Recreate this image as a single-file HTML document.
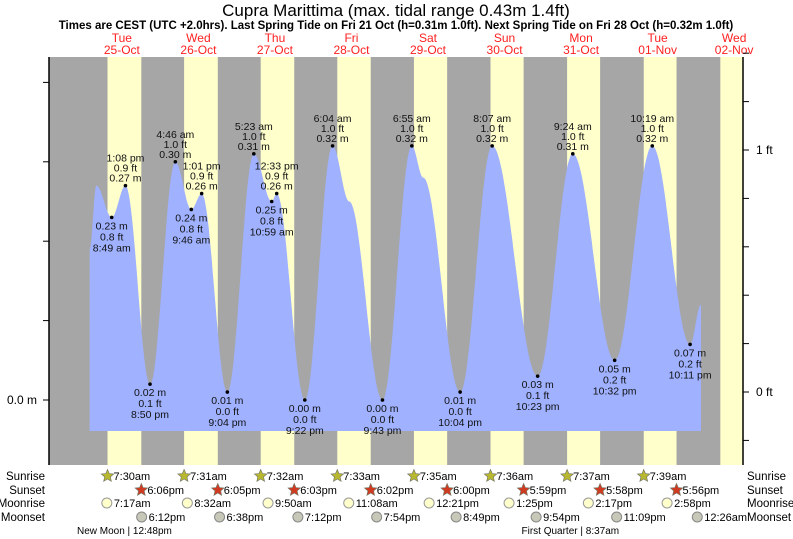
<!DOCTYPE html>
<html><head><meta charset="utf-8"><style>
body{margin:0;background:#fff;}
svg{display:block;font-family:"Liberation Sans",sans-serif;}
</style></head><body>
<svg id="c" width="793" height="539" xmlns="http://www.w3.org/2000/svg">
<text x="396" y="16" text-anchor="middle" font-size="17">Cupra Marittima (max. tidal range 0.43m 1.4ft)</text>
<text x="396" y="29" text-anchor="middle" font-size="11.5" font-weight="bold">Times are CEST (UTC +2.0hrs). Last Spring Tide on Fri 21 Oct (h=0.31m 1.0ft). Next Spring Tide on Fri 28 Oct (h=0.32m 1.0ft)</text>
<g id="bands"></g>
<path id="tide" fill="#9fb1ff"></path>
<g id="labels"></g>
<g id="axes"></g>
<g id="rows"></g>
</svg>
<script>
const dayNames=["Tue","Wed","Thu","Fri","Sat","Sun","Mon","Tue","Wed"];
const dayDates=["25-Oct","26-Oct","27-Oct","28-Oct","29-Oct","30-Oct","31-Oct","01-Nov","02-Nov"];
const sunrise=["7:30","7:31","7:32","7:33","7:35","7:36","7:37","7:39","7:40"];
const sunset=["18:06","18:05","18:03","18:02","18:00","17:59","17:58","17:56","17:55"];
const sunriseLbl=["7:30am","7:31am","7:32am","7:33am","7:35am","7:36am","7:37am","7:39am"];
const sunsetLbl=["6:06pm","6:05pm","6:03pm","6:02pm","6:00pm","5:59pm","5:58pm","5:56pm"];
const moonrise=["7:17am","8:32am","9:50am","11:08am","12:21pm","1:25pm","2:17pm","2:58pm"];
const moonset=["6:12pm","6:38pm","7:12pm","7:54pm","8:49pm","9:54pm","11:09pm","12:26am"];
const tideHours=[1.9,4.0,8.82,13.13,20.83,28.77,33.77,37.02,45.07,53.38,58.98,60.55,69.37,78.07,83.3,93.72,102.92,106.5,118.07,128.12,142.38,153.4,166.53,178.32,190.18,193.6];
const tideHeights=[0.19,0.27,0.23,0.27,0.02,0.30,0.24,0.26,0.01,0.31,0.25,0.26,0.00,0.32,0.25,0.00,0.32,0.28,0.01,0.32,0.03,0.31,0.05,0.32,0.07,0.12];
const extLabelTime=["","","8:49 am","1:08 pm","8:50 pm","4:46 am","9:46 am","1:01 pm","9:04 pm","5:23 am","10:59 am","12:33 pm","9:22 pm","6:04 am","","9:43 pm","6:55 am","","10:04 pm","8:07 am","10:23 pm","9:24 am","10:32 pm","10:19 am","10:11 pm",""];
const extType=["","","L","H","L","H","L","H","L","H","L","H","L","H","","L","H","","L","H","L","H","L","H","L",""];
const phases=[{h:12.8,t:"New Moon | 12:48pm"},{h:152.62,t:"First Quarter | 8:37am"}];

const NS="http://www.w3.org/2000/svg";
const X0=49,X1=743,Y0=57,Y1=465,BOT=431;
const x=h=>83.6+h*3.189;
const y=m=>400-m*794;
const yft=f=>392-f*242;
const pm=s=>{const [a,b]=s.split(":").map(Number);return a+b/60;};
function mk(tag,attrs,parent,txt){const e=document.createElementNS(NS,tag);for(const k in attrs)e.setAttribute(k,attrs[k]);if(txt!==undefined)e.textContent=txt;parent.appendChild(e);return e;}
const bands=document.getElementById('bands');
let r=mk('rect',{x:X0,y:Y0,width:X1-X0,height:Y1-Y0,fill:'#a6a6a6'},bands);

const lab=document.getElementById('labels');
for(let d=0;d<dayNames.length;d++){
  const a=Math.max(X0,x(d*24+pm(sunrise[d]))),b=Math.min(X1,x(d*24+pm(sunset[d])));
  if(b>a){const e=mk('rect',{x:a,y:Y0,width:b-a,height:Y1-Y0,fill:'#ffffcc'},bands);
  }
  const cx=Math.min(x(d*24+12),770);
  const t1=mk('text',{x:cx,y:42,'text-anchor':'middle','font-size':12,fill:'#ff2020'},lab,dayNames[d]);
  
  const t2=mk('text',{x:cx,y:54,'text-anchor':'middle','font-size':12,fill:'#ff2020'},lab,dayDates[d]);
  
}
let dstr=`M${x(tideHours[0])},${BOT}`;
for(let i=0;i<tideHours.length-1;i++){
  const h0=tideHours[i],h1=tideHours[i+1],v0=tideHeights[i],v1=tideHeights[i+1];
  const n=Math.max(4,Math.ceil((h1-h0)*4));
  for(let k=0;k<=n;k++){const f=k/n;const v=v0+(v1-v0)*(1-Math.cos(Math.PI*f))/2;dstr+=`L${x(h0+(h1-h0)*f).toFixed(1)},${y(v).toFixed(1)}`;}
}
dstr+=`L${x(tideHours[tideHours.length-1])},${BOT}Z`;
document.getElementById('tide').setAttribute('d',dstr);
for(let i=0;i<tideHours.length;i++){
  if(!extType[i])continue;
  const px=x(tideHours[i]),py=y(tideHeights[i]);
  const m=tideHeights[i].toFixed(2)+" m",ft=(tideHeights[i]/0.3048).toFixed(1)+" ft";
  const dot=mk('circle',{cx:px,cy:py,r:1.8,fill:'#000'},lab);
  
  const lines=extType[i]==='H'?[[extLabelTime[i],-24],[ft,-14],[m,-4]]:[[m,12],[ft,23],[extLabelTime[i],34]];
  for(const [s,o] of lines){const t=mk('text',{x:px,y:py+o,'text-anchor':'middle','font-size':10.5,fill:'#111'},lab,s);
    }
}
const ax=document.getElementById('axes');
let l=mk('line',{x1:X0,y1:Y0,x2:X0,y2:Y1,stroke:'#000','stroke-width':1.5},ax);

l=mk('line',{x1:X1,y1:Y0,x2:X1,y2:Y1,stroke:'#000','stroke-width':1.5},ax);

const mTicks=[0,0.1,0.2,0.3,0.4];
for(const v of mTicks){const t=mk('line',{x1:43,y1:y(v),x2:X0,y2:y(v),stroke:'#000'},ax);
  }
let tt=mk('text',{x:37,y:404,'text-anchor':'end','font-size':12},ax,"0.0 m");

const ftTicks=[-0.2,0,0.2,0.4,0.6,0.8,1.0,1.2,1.4];
for(const v of ftTicks){const yy=yft(v);const t=mk('line',{x1:X1,y1:yy,x2:749,y2:yy,stroke:'#000'},ax);
  }
for(const v of [0,1]){const t=mk('text',{x:756,y:yft(v)+4,'font-size':12},ax,v+" ft");
  }
const rows=document.getElementById('rows');
const rowY=[476,490,503,517];const rowN=["Sunrise","Sunset","Moonrise","Moonset"];
rowN.forEach((n,i)=>{let a=mk('text',{x:45,y:rowY[i]+4,'text-anchor':'end','font-size':11.5},rows,n);
  
  a=mk('text',{x:747,y:rowY[i]+4,'font-size':11.5},rows,n);
  });
function star(cx,cy,col){let p="";for(let k=0;k<10;k++){const rr=k%2?3:6.5,a=-Math.PI/2+k*Math.PI/5;p+=(k?"L":"M")+(cx+rr*Math.cos(a)).toFixed(1)+","+(cy+rr*Math.sin(a)).toFixed(1);}
  const s=mk('path',{d:p+"Z",fill:col,stroke:'#776',"stroke-width":0.7},rows);return s;}
function hr12(s){let m=s.match(/(\d+):(\d+)(am|pm)/);let h=+m[1]%12+(m[3]==='pm'?12:0);return h+ +m[2]/60;}
for(let d=0;d<8;d++){
  let s=star(x(d*24+pm(sunrise[d])),rowY[0],'#b8b830');
  let t=mk('text',{x:x(d*24+pm(sunrise[d]))+6,y:rowY[0]+4,'font-size':11},rows,sunriseLbl[d]);
  s=star(x(d*24+pm(sunset[d])),rowY[1],'#d03a20');
  t=mk('text',{x:x(d*24+pm(sunset[d]))+6,y:rowY[1]+4,'font-size':11},rows,sunsetLbl[d]);
  const mr=x(d*24+hr12(moonrise[d]));
  let c=mk('circle',{cx:mr,cy:rowY[2],r:5,fill:'#ffffcc',stroke:'#999'},rows);
  t=mk('text',{x:mr+7,y:rowY[2]+4,'font-size':11},rows,moonrise[d]);
  let mh=hr12(moonset[d]);if(/am/.test(moonset[d]))mh+=24;const ms=x(d*24+mh);
  c=mk('circle',{cx:ms,cy:rowY[3],r:5,fill:'#c8c8b8',stroke:'#888'},rows);
  t=mk('text',{x:ms+7,y:rowY[3]+4,'font-size':11},rows,moonset[d]);
}
for(const p of phases){const t=mk('text',{x:x(p.h),y:534,'text-anchor':'middle','font-size':10},rows,p.t);
  }
</script>
</body></html>
